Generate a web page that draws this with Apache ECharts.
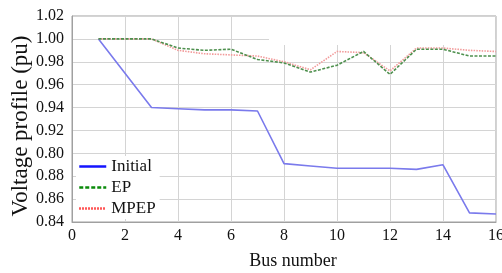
<!DOCTYPE html>
<html>
<head>
<meta charset="utf-8">
<script src="https://cdn.jsdelivr.net/npm/echarts@6/dist/echarts.min.js"></script>
<style>
  html, body { margin: 0; padding: 0; background: #fff; }
  #chart { width: 502px; height: 273px; }
</style>
</head>
<body>
<div id="chart"></div>
<script>
// bus numbers and voltage profiles
var buses = [1, 2, 3, 4, 5, 6, 7, 8, 9, 10, 11, 12, 13, 14, 15, 16];
var initial = [1.000, 0.970, 0.940, 0.939, 0.938, 0.938, 0.937, 0.891, 0.889, 0.887, 0.887, 0.887, 0.886, 0.890, 0.848, 0.847];
var ep = [1.000, 1.000, 1.000, 0.992, 0.990, 0.991, 0.982, 0.979, 0.971, 0.977, 0.989, 0.969, 0.991, 0.991, 0.985, 0.985];
var mpep = [1.000, 1.000, 1.000, 0.990, 0.987, 0.986, 0.985, 0.980, 0.973, 0.989, 0.988, 0.972, 0.992, 0.992, 0.990, 0.989];
// tick labels as printed (0.90 is printed as 0.80 in the original)
var yTickLabels = ['0.84', '0.86', '0.88', '0.80', '0.92', '0.94', '0.96', '0.98', '1.00', '1.02'];

var font = 'Liberation Serif';
function pairs(ys) {
    var out = [];
    for (var i = 0; i < buses.length; i++) out.push([buses[i], ys[i]]);
    return out;
}

var chart = echarts.init(document.getElementById('chart'));
var option = {
    animation: false,
    textStyle: { fontFamily: font },
    grid: {
        left: 72, right: 6, top: 16, bottom: 51, outerBoundsMode: 'none',
        show: true, borderColor: '#a0a0a0', borderWidth: 1
    },
    xAxis: {
        type: 'value', min: 0, max: 16, interval: 2,
        name: 'Bus number', nameLocation: 'middle', nameGap: 30, nameMoveOverlap: false,
        nameTextStyle: { fontFamily: font, fontSize: 18, color: '#111', padding: [0, 0, 0, 18] },
        axisLine: { show: true, lineStyle: { color: '#a0a0a0' } },
        axisTick: { show: false },
        axisLabel: { fontFamily: font, fontSize: 16, color: '#111', margin: 6 },
        splitLine: { show: true, lineStyle: { color: '#d4d4d4' } }
    },
    yAxis: {
        type: 'value', min: 0.84, max: 1.02, interval: 0.02,
        name: 'Voltage profile (pu)', nameLocation: 'middle', nameGap: 40, nameMoveOverlap: false,
        nameTextStyle: { fontFamily: font, fontSize: 23, color: '#111', padding: [0, 14, 0, 0] },
        axisLine: { show: true, lineStyle: { color: '#a0a0a0' } },
        axisTick: { show: false },
        axisLabel: {
            fontFamily: font, fontSize: 16, color: '#111', margin: 8,
            formatter: function (v, i) { return yTickLabels[i]; }
        },
        splitLine: { show: true, lineStyle: { color: '#d4d4d4' } }
    },
    legend: {
        orient: 'vertical', left: 76, top: 156,
        itemWidth: 27, itemHeight: 14, itemGap: 4,
        backgroundColor: '#fff', padding: [2, 4, 2, 2],
        textStyle: { fontFamily: font, fontSize: 17, color: '#111' },
        data: [
            { name: 'Initial', itemStyle: { opacity: 0 }, lineStyle: { color: '#1414ff', width: 2.5, type: 'solid', opacity: 1 } },
            { name: 'EP', itemStyle: { opacity: 0 }, lineStyle: { color: '#0a8a0a', width: 2.5, type: [4, 2], opacity: 1 } },
            { name: 'MPEP', itemStyle: { opacity: 0 }, lineStyle: { color: '#ff2020', width: 2.5, type: [1.5, 1.5], opacity: 1 } }
        ]
    },
    graphic: [{
        // blank patch over the upper-right gridlines, as in the source figure
        type: 'rect', z: 1, silent: true,
        shape: { x: 269, y: 17, width: 226, height: 28 },
        style: { fill: '#fff' }
    }],
    series: [
        {
            name: 'Initial', type: 'line', data: pairs(initial), symbol: 'none', z: 4,
            lineStyle: { color: '#7a7aec', width: 1.6 }, itemStyle: { color: '#7a7aec' }
        },
        {
            name: 'EP', type: 'line', data: pairs(ep), symbol: 'none', z: 4,
            lineStyle: { color: '#4e904e', width: 1.6, type: [3, 1.5] }, itemStyle: { color: '#4e904e' }
        },
        {
            name: 'MPEP', type: 'line', data: pairs(mpep), symbol: 'none', z: 3,
            lineStyle: { color: '#f29a9a', width: 1.6, type: [1.5, 1.2] }, itemStyle: { color: '#f29a9a' }
        }
    ]
};
chart.setOption(option);
</script>
</body>
</html>
